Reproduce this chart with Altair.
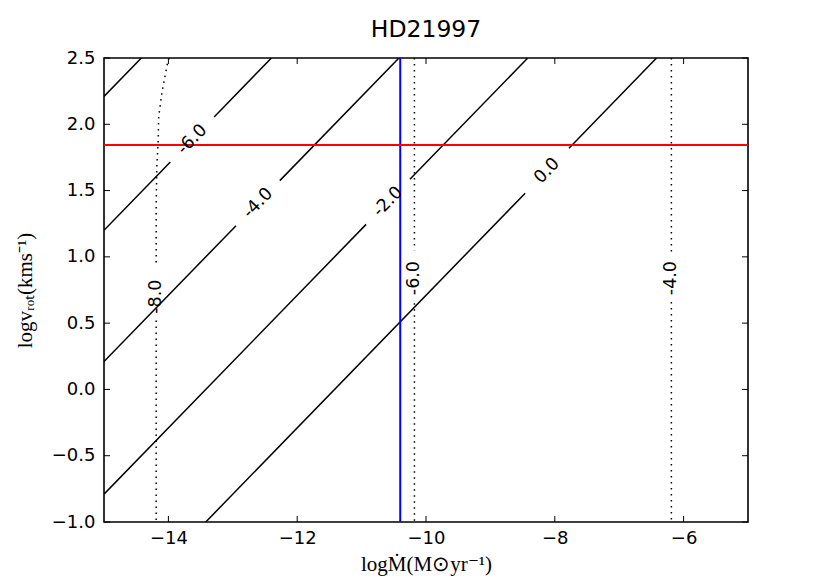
import altair as alt
import pandas as pd

# ---------------- data ----------------
x_ticks = [-14, -12, -10, -8, -6]
y_ticks = [-1.0, -0.5, 0.0, 0.5, 1.0, 1.5, 2.0, 2.5]

# solid contours (straight lines): endpoints and label positions
solid_levels = [-8.0, -6.0, -4.0, -2.0, 0.0]
solid_x0 = [-15.0, -15.0, -15.0, -15.0, -13.42]
solid_y0 = [2.21, 1.20, 0.21, -0.79, -1.0]
solid_x1 = [-14.42, -12.40, -10.42, -8.42, -6.42]
solid_y1 = [2.5, 2.5, 2.5, 2.5, 2.5]
solid_label_x = [None, -13.63, -12.61, -10.59, -8.12]
solid_gap_half = 0.34

# dotted contours (near-vertical)
dotted_levels = [-8.0, -6.0, -4.0]
dotted_left_x = [-13.99, -14.01, -14.05, -14.10, -14.15, -14.16, -14.18, -14.19, -14.19]
dotted_left_y = [2.5, 2.47, 2.37, 2.24, 2.06, 1.86, 1.68, 1.40, -1.0]
dotted_mid_x = [-10.18, -10.18]
dotted_mid_y = [2.5, -1.0]
dotted_right_x = [-6.19, -6.19]
dotted_right_y = [2.5, -1.0]
dotted_gaps = [(0.52, 0.95), (0.65, 1.05), (0.66, 1.03)]
dotted_label_y = [0.70, 0.84, 0.84]
dotted_label_x = [-14.19, -10.18, -6.19]

vline_x = [-10.40]
hline_y = [1.844]

# ---------------- build tables ----------------
rows = []
labels_solid = []
for k, lev in enumerate(solid_levels):
    x0, y0, x1, y1 = solid_x0[k], solid_y0[k], solid_x1[k], solid_y1[k]

    def yat(x):
        return y0 + (y1 - y0) * (x - x0) / (x1 - x0)

    lx = solid_label_x[k]
    if lx is None:
        pieces = [((x0, y0), (x1, y1))]
    else:
        a = lx - solid_gap_half
        b = lx + solid_gap_half
        pieces = [((x0, y0), (a, yat(a))), ((b, yat(b)), (x1, y1))]
        labels_solid.append({"x": lx, "y": yat(lx), "t": f"{lev:.1f}"})
    for p, (s, e) in enumerate(pieces):
        sid = f"s{k}_{p}"
        rows.append({"seg": sid, "i": 0, "x": s[0], "y": s[1]})
        rows.append({"seg": sid, "i": 1, "x": e[0], "y": e[1]})
solid_df = pd.DataFrame(rows)

drows = []
curves = [(dotted_left_x, dotted_left_y), (dotted_mid_x, dotted_mid_y), (dotted_right_x, dotted_right_y)]
for k, (xs, ys) in enumerate(curves):
    lo, hi = dotted_gaps[k]

    def xat(yv, xs=xs, ys=ys):
        for j in range(len(ys) - 1):
            ya, yb = ys[j], ys[j + 1]
            if min(ya, yb) <= yv <= max(ya, yb):
                if ya == yb:
                    return xs[j]
                return xs[j] + (xs[j + 1] - xs[j]) * (yv - ya) / (yb - ya)
        return xs[-1]
    upper = [(x, y) for x, y in zip(xs, ys) if y > hi] + [(xat(hi), hi)]
    lower = [(xat(lo), lo)] + [(x, y) for x, y in zip(xs, ys) if y < lo]
    for p, pts in enumerate([upper, lower]):
        for i, (x, y) in enumerate(pts):
            drows.append({"seg": f"d{k}_{p}", "i": i, "x": x, "y": y})
dotted_df = pd.DataFrame(drows)

labels_dotted = pd.DataFrame({
    "x": dotted_label_x, "y": dotted_label_y,
    "t": [f"{v:.1f}" for v in dotted_levels],
})
labels_solid = pd.DataFrame(labels_solid)

xscale = alt.Scale(domain=[-15, -5], nice=False, zero=False)
yscale = alt.Scale(domain=[-1.0, 2.5], nice=False, zero=False)

W, H = 644, 464
TL = 6
LFS = 17.5  # contour label font size
TFS = 18    # tick label font size

XT = "log\u1e40(M\u2299yr\u207b\u00b9)"
YT = "logv\u1d63\u2092\u209c(kms\u207b\u00b9)"

xaxis = alt.Axis(values=x_ticks, format="d", labelExpr="replace(datum.label, '-', '\u2212')",
                 ticks=False, domain=False, grid=False, labelPadding=7,
                 labelFont="DejaVu Sans", labelFontSize=TFS, labelColor="black",
                 title=XT, titleFont="Liberation Serif",
                 titleFontSize=21, titleFontWeight="normal", titleColor="black", titlePadding=6)
yaxis = alt.Axis(values=y_ticks, format=".1f", labelExpr="replace(datum.label, '-', '\u2212')",
                 ticks=False, domain=False, grid=False, labelPadding=9,
                 labelFont="DejaVu Sans", labelFontSize=TFS, labelColor="black",
                 title=YT, titleFont="Liberation Serif",
                 titleFontSize=21, titleFontWeight="normal", titleColor="black", titlePadding=16)

solid = alt.Chart(solid_df).mark_line(color="black", strokeWidth=1.5, clip=True).encode(
    x=alt.X("x:Q", scale=xscale, axis=xaxis, title=XT),
    y=alt.Y("y:Q", scale=yscale, axis=yaxis, title=YT),
    detail="seg:N",
    order="i:Q",
)

dotted = alt.Chart(dotted_df).mark_line(color="black", strokeWidth=1.5, strokeDash=[1.5, 4.5],
                                        clip=True).encode(
    x=alt.X("x:Q", scale=xscale, title=XT),
    y=alt.Y("y:Q", scale=yscale, title=YT),
    detail="seg:N",
    order="i:Q",
)

vline = alt.Chart(pd.DataFrame({"x": vline_x})).mark_rule(color="#0000ff", strokeWidth=2).encode(
    x=alt.X("x:Q", scale=xscale, title=XT),
)
hline = alt.Chart(pd.DataFrame({"y": hline_y})).mark_rule(color="#ff0000", strokeWidth=2).encode(
    y=alt.Y("y:Q", scale=yscale, title=YT),
)

txt_solid = alt.Chart(labels_solid).mark_text(
    font="DejaVu Sans", fontSize=LFS, angle=314, color="black"
).encode(
    x=alt.X("x:Q", scale=xscale, title=XT),
    y=alt.Y("y:Q", scale=yscale, title=YT),
    text="t:N",
)
txt_dotted = alt.Chart(labels_dotted).mark_text(
    font="DejaVu Sans", fontSize=LFS, angle=270, color="black"
).encode(
    x=alt.X("x:Q", scale=xscale, title=XT),
    y=alt.Y("y:Q", scale=yscale, title=YT),
    text="t:N",
)

xt = pd.DataFrame({"v": x_ticks})
yt = pd.DataFrame({"v": y_ticks})
tick_top = alt.Chart(xt).mark_rule(color="black", strokeWidth=1).encode(
    x=alt.X("v:Q", scale=xscale, title=XT), y=alt.value(0), y2=alt.value(TL))
tick_bot = alt.Chart(xt).mark_rule(color="black", strokeWidth=1).encode(
    x=alt.X("v:Q", scale=xscale, title=XT), y=alt.value(H), y2=alt.value(H - TL))
tick_left = alt.Chart(yt).mark_rule(color="black", strokeWidth=1).encode(
    y=alt.Y("v:Q", scale=yscale, title=YT), x=alt.value(0), x2=alt.value(TL))
tick_right = alt.Chart(yt).mark_rule(color="black", strokeWidth=1).encode(
    y=alt.Y("v:Q", scale=yscale, title=YT), x=alt.value(W), x2=alt.value(W - TL))

chart = alt.layer(
    solid, dotted, vline, hline, txt_solid, txt_dotted,
    tick_top, tick_bot, tick_left, tick_right,
).properties(
    width=W, height=H,
    title=alt.TitleParams("HD21997", font="DejaVu Sans", fontSize=23.5, fontWeight="normal",
                          color="black", offset=8),
    autosize="none",
    background="white",
    padding={"left": 96, "top": 50, "right": 70, "bottom": 60},
).configure_view(stroke="black", strokeWidth=1.6)

chart.save("out.html", embed_options={"renderer": "svg", "actions": False})
